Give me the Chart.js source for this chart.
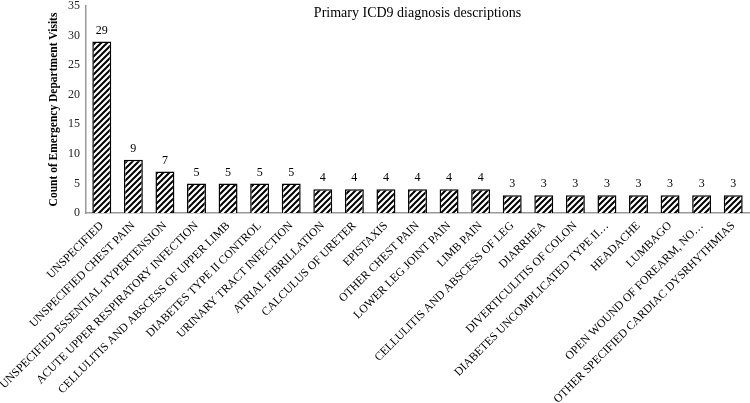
<!DOCTYPE html>
<html>
<head>
<meta charset="utf-8">
<script src="https://cdn.jsdelivr.net/npm/chart.js@4"></script>
<style>
  html, body { margin: 0; padding: 0; background: #fff; }
  #wrap { width: 750px; height: 403px; }
</style>
</head>
<body>
<div id="wrap"><canvas id="icdChart" width="750" height="403"></canvas></div>
<script>
var chartTitle = 'Primary ICD9 diagnosis descriptions';
var yTitle = 'Count of Emergency Department Visits';
var diagnoses = [
  'UNSPECIFIED',
  'UNSPECIFIED CHEST PAIN',
  'UNSPECIFIED ESSENTIAL HYPERTENSION',
  'ACUTE UPPER RESPIRATORY INFECTION',
  'CELLULITIS AND ABSCESS OF UPPER LIMB',
  'DIABETES TYPE II CONTROL',
  'URINARY TRACT INFECTION',
  'ATRIAL FIBRILLATION',
  'CALCULUS OF URETER',
  'EPISTAXIS',
  'OTHER CHEST PAIN',
  'LOWER LEG JOINT PAIN',
  'LIMB PAIN',
  'CELLULITIS AND ABSCESS OF LEG',
  'DIARRHEA',
  'DIVERTICULITIS OF COLON',
  'DIABETES UNCOMPLICATED TYPE II…',
  'HEADACHE',
  'LUMBAGO',
  'OPEN WOUND OF FOREARM, NO…',
  'OTHER SPECIFIED CARDIAC DYSRHYTHMIAS'
];
var visits = [29, 9, 7, 5, 5, 5, 5, 4, 4, 4, 4, 4, 4, 3, 3, 3, 3, 3, 3, 3, 3];
var yTicks = [0, 5, 10, 15, 20, 25, 30, 35];

var serif = 'Liberation Serif';

// diagonal hatch fill
function makeHatch() {
  var s = 6;
  var c = document.createElement('canvas');
  c.width = s; c.height = s;
  var g = c.getContext('2d');
  g.fillStyle = '#fff';
  g.fillRect(0, 0, s, s);
  g.strokeStyle = '#000';
  g.lineWidth = 2;
  g.beginPath();
  g.moveTo(0, s); g.lineTo(s, 0);
  g.moveTo(-s / 2, s / 2); g.lineTo(s / 2, -s / 2);
  g.moveTo(s / 2, s * 1.5); g.lineTo(s * 1.5, s / 2);
  g.stroke();
  return g.createPattern(c, 'repeat');
}

var topTitle = {
  id: 'topTitle',
  afterDraw: function(c) {
    var ctx = c.ctx, a = c.chartArea;
    ctx.save();
    ctx.font = '14px "' + serif + '"';
    ctx.fillStyle = '#000';
    ctx.textAlign = 'center';
    ctx.textBaseline = 'middle';
    ctx.fillText(chartTitle, (a.left + a.right) / 2, 13);
    ctx.restore();
  }
};

var valueLabels = {
  id: 'valueLabels',
  afterDatasetsDraw: function(c) {
    var ctx = c.ctx;
    var meta = c.getDatasetMeta(0);
    ctx.save();
    ctx.font = '12px "' + serif + '"';
    ctx.fillStyle = '#000';
    ctx.textAlign = 'center';
    ctx.textBaseline = 'bottom';
    meta.data.forEach(function(bar, i) {
      ctx.fillText(String(visits[i]), bar.x, bar.y - 5);
    });
    ctx.restore();
  }
};

new Chart(document.getElementById('icdChart'), {
  type: 'bar',
  data: {
    labels: diagnoses,
    datasets: [{
      data: visits,
      backgroundColor: makeHatch(),
      borderColor: '#000',
      borderWidth: 1.5,
      barPercentage: 0.6,
      categoryPercentage: 1
    }]
  },
  plugins: [topTitle, valueLabels],
  options: {
    responsive: false,
    animation: false,
    layout: { padding: { top: 0, right: 1, left: 0, bottom: 0 } },
    plugins: {
      legend: { display: false },
      tooltip: { enabled: false },
      title: { display: false }
    },
    scales: {
      x: {
        grid: { display: false, drawTicks: false },
        border: { color: '#999', width: 1.5 },
        ticks: {
          autoSkip: false, minRotation: 45, maxRotation: 45, padding: 6,
          color: '#000', font: { family: serif, size: 11.7 }
        },
        afterFit: function(s) { s.height = 190; }
      },
      y: {
        min: 0, max: 35,
        grid: { display: false, drawTicks: false },
        border: { color: '#999', width: 1.5 },
        afterBuildTicks: function(s) { s.ticks = yTicks.map(function(v) { return { value: v }; }); },
        ticks: { padding: 6, color: '#222', font: { family: serif, size: 12 } },
        title: {
          display: true, text: yTitle, color: '#000', padding: { top: 47, bottom: 0 },
          font: { family: serif, size: 11.5, weight: 'bold' }
        },
        afterFit: function(s) { s.width = 86; s.paddingTop = 6; }
      }
    }
  }
});
</script>
</body>
</html>
